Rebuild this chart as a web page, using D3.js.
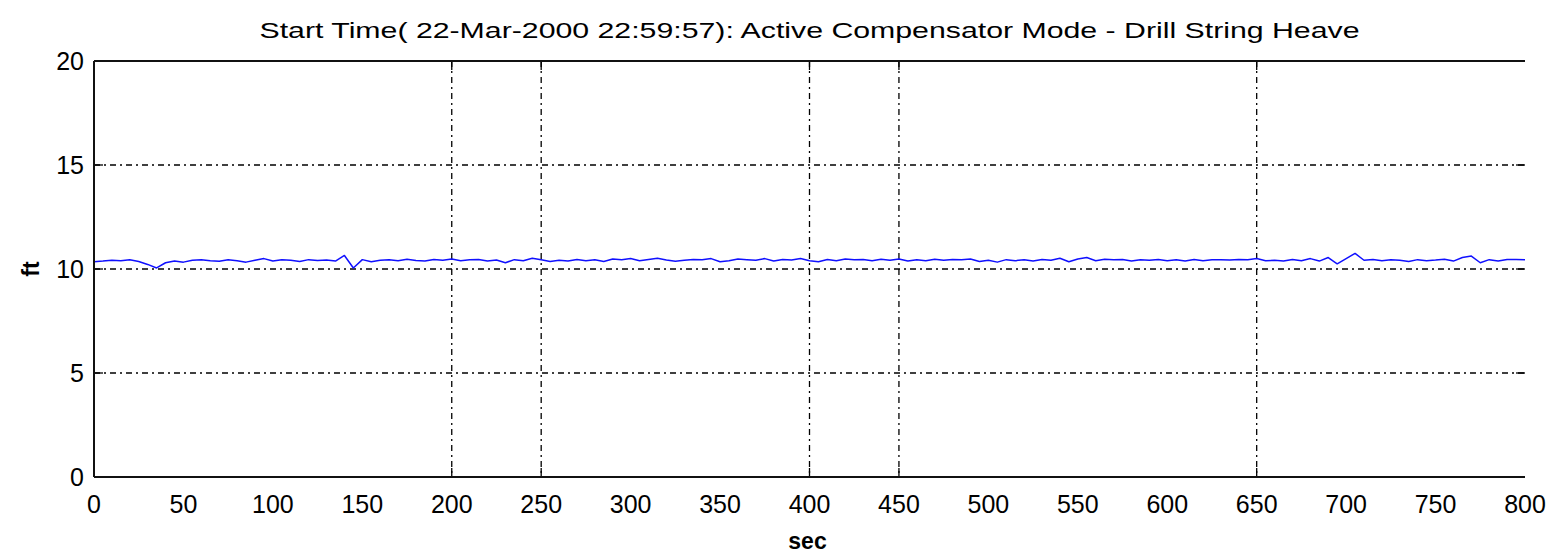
<!DOCTYPE html>
<html>
<head>
<meta charset="utf-8">
<script src="https://cdn.jsdelivr.net/npm/d3@7"></script>
<style>
  html, body { margin: 0; padding: 0; background: #fff; }
  svg { display: block; }
  text { font-family: "Liberation Sans", Arial, Helvetica, sans-serif; fill: #000; }
</style>
</head>
<body>
<script>
// Drill string heave, sampled every 5 s (ft)
const heave = [
  10.35, 10.38, 10.42, 10.40, 10.44, 10.36, 10.22, 10.05, 10.30, 10.38,
  10.33, 10.42, 10.45, 10.40, 10.37, 10.44, 10.40, 10.33, 10.42, 10.50,
  10.38, 10.44, 10.42, 10.36, 10.45, 10.41, 10.43, 10.38, 10.65, 10.05,
  10.45, 10.35, 10.42, 10.44, 10.40, 10.47, 10.41, 10.38, 10.46, 10.42,
  10.48, 10.40, 10.44, 10.46, 10.38, 10.43, 10.30, 10.45, 10.40, 10.52,
  10.44, 10.36, 10.42, 10.38, 10.46, 10.40, 10.44, 10.36, 10.48, 10.45,
  10.50, 10.40, 10.46, 10.52, 10.43, 10.37, 10.42, 10.46, 10.44, 10.50,
  10.35, 10.40, 10.48, 10.45, 10.42, 10.50, 10.38, 10.46, 10.43, 10.50,
  10.40, 10.35, 10.46, 10.40, 10.48, 10.44, 10.46, 10.40, 10.47, 10.42,
  10.48, 10.38, 10.45, 10.40, 10.47, 10.42, 10.46, 10.44, 10.48, 10.36,
  10.42, 10.33, 10.45, 10.40, 10.44, 10.38, 10.46, 10.42, 10.52, 10.35,
  10.48, 10.55, 10.40, 10.47, 10.44, 10.46, 10.38, 10.45, 10.42, 10.46,
  10.40, 10.44, 10.38, 10.46, 10.40, 10.44, 10.45, 10.43, 10.46, 10.44,
  10.50, 10.40, 10.42, 10.38, 10.46, 10.40, 10.50, 10.38, 10.55, 10.25,
  10.50, 10.75, 10.42, 10.46, 10.40, 10.44, 10.42, 10.36, 10.45, 10.40,
  10.43, 10.47, 10.38, 10.55, 10.62, 10.30, 10.45, 10.38, 10.46, 10.46,
  10.45
];
const sampleStep = 5; // seconds between samples

const xTickLabels = [0, 50, 100, 150, 200, 250, 300, 350, 400, 450, 500, 550, 600, 650, 700, 750, 800];
const xGridValues = [200, 250, 400, 450, 650];
const yTickLabels = [0, 5, 10, 15, 20];
const yGridValues = [5, 10, 15];

const titleText = "Start Time( 22-Mar-2000 22:59:57): Active Compensator Mode - Drill String Heave";
const xLabel = "sec";
const yLabel = "ft";

const W = 1558, H = 553;
const margin = { left: 94, right: 33, top: 61, bottom: 76 };
const iw = W - margin.left - margin.right;
const ih = H - margin.top - margin.bottom;

const svg = d3.select("body").append("svg").attr("width", W).attr("height", H);
const g = svg.append("g").attr("transform", `translate(${margin.left},${margin.top})`);

const x = d3.scaleLinear().domain([0, 800]).range([0, iw]);
const y = d3.scaleLinear().domain([0, 20]).range([ih, 0]);

const gridDash = "6,4,2,4";
const tickLen = 9;

// grid lines
g.append("g").selectAll("line").data(yGridValues).join("line")
  .attr("x1", 0).attr("x2", iw)
  .attr("y1", d => y(d)).attr("y2", d => y(d))
  .attr("stroke", "#000").attr("stroke-width", 1.3).attr("stroke-dasharray", gridDash);
g.append("g").selectAll("line").data(xGridValues).join("line")
  .attr("y1", 0).attr("y2", ih)
  .attr("x1", d => x(d)).attr("x2", d => x(d))
  .attr("stroke", "#000").attr("stroke-width", 1.3).attr("stroke-dasharray", gridDash);

// solid tick marks at the grid positions
const ticks = g.append("g").attr("stroke", "#000").attr("stroke-width", 1.3);
yGridValues.forEach(v => {
  ticks.append("line").attr("x1", 0).attr("x2", tickLen).attr("y1", y(v)).attr("y2", y(v));
  ticks.append("line").attr("x1", iw - tickLen).attr("x2", iw).attr("y1", y(v)).attr("y2", y(v));
});
xGridValues.forEach(v => {
  ticks.append("line").attr("x1", x(v)).attr("x2", x(v)).attr("y1", 0).attr("y2", tickLen);
  ticks.append("line").attr("x1", x(v)).attr("x2", x(v)).attr("y1", ih - tickLen).attr("y2", ih);
});

// heave trace
const line = d3.line()
  .x((d, i) => x(i * sampleStep))
  .y(d => y(d));
g.append("path").datum(heave)
  .attr("d", line)
  .attr("fill", "none")
  .attr("stroke", "#1010ff")
  .attr("stroke-width", 1.5)
  .attr("stroke-linejoin", "round");

// axes frame: left, top and bottom lines
const frame = g.append("g").attr("stroke", "#111").attr("stroke-width", 2);
frame.append("line").attr("x1", 0).attr("x2", 0).attr("y1", 0).attr("y2", ih);
frame.append("line").attr("x1", 0).attr("x2", iw).attr("y1", 0).attr("y2", 0);
frame.append("line").attr("x1", 0).attr("x2", iw).attr("y1", ih).attr("y2", ih);

// tick labels
g.append("g").selectAll("text").data(xTickLabels).join("text")
  .attr("x", d => x(d)).attr("y", ih + 36)
  .attr("text-anchor", "middle")
  .style("font-size", "25px")
  .text(d => d);
g.append("g").selectAll("text").data(yTickLabels).join("text")
  .attr("x", -10).attr("y", d => y(d) + 9)
  .attr("text-anchor", "end")
  .style("font-size", "25px")
  .text(d => d);

// title and axis labels
svg.append("text")
  .attr("x", margin.left + iw / 2).attr("y", 38)
  .attr("text-anchor", "middle")
  .attr("textLength", 1100)
  .attr("lengthAdjust", "spacingAndGlyphs")
  .style("font-size", "22px")
  .text(titleText);
svg.append("text")
  .attr("x", margin.left + iw / 2 - 2).attr("y", 549)
  .attr("text-anchor", "middle")
  .style("font-size", "23px").style("font-weight", "bold")
  .text(xLabel);
svg.append("text")
  .attr("transform", `translate(39,${margin.top + ih / 2}) rotate(-90)`)
  .attr("text-anchor", "middle")
  .style("font-size", "23px").style("font-weight", "bold")
  .text(yLabel);
</script>
</body>
</html>
